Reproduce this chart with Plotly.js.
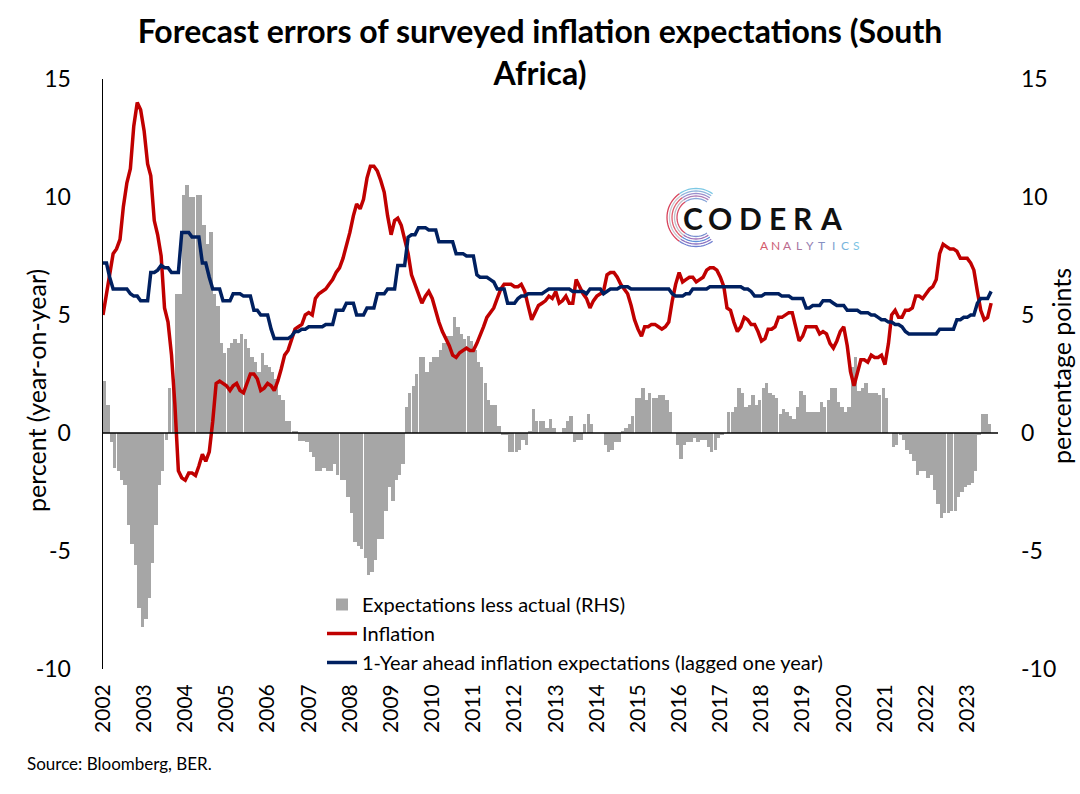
<!DOCTYPE html>
<html><head><meta charset="utf-8">
<script src="https://cdn.plot.ly/plotly-3.0.1.min.js"></script>
<style>html,body{margin:0;padding:0;background:#fff}#chart{width:1080px;height:794px}</style>
</head><body><div id="chart"></div>
<script>
// Monthly observations, Jan 2002 .. Aug 2023
const startYear = 2002;
const nMonths = 260;
const months = [];
for (let i = 0; i < nMonths; i++) {
  const y = startYear + Math.floor(i / 12), m = i % 12 + 1;
  months.push(y + '-' + (m < 10 ? '0' : '') + m + '-01');
}
const yearLabels = ['2002','2003','2004','2005','2006','2007','2008','2009','2010','2011','2012','2013','2014','2015','2016','2017','2018','2019','2020','2021','2022','2023'];
const yearTicks = yearLabels.map(y => y + '-01-01');
const yTickVals = [-10, -5, 0, 5, 10, 15];
const yTickText = ['-10', '-5', '0', '5', '10', '15'];

const inflation = [
5.0,5.9,6.9,7.6,7.8,8.2,9.6,10.6,11.2,13.0,
14.0,13.7,12.8,11.4,10.9,9.0,8.4,7.5,5.3,4.7,
3.3,1.2,-1.6,-1.9,-2.0,-1.7,-1.7,-1.8,-1.4,-0.9,
-1.2,-0.8,0.5,2.1,2.2,2.1,2.0,1.8,2.0,2.1,
1.8,1.7,2.1,2.5,2.5,2.3,1.8,1.9,2.1,2.0,
1.8,2.2,2.7,3.3,3.5,4.0,4.4,4.5,4.6,5.0,
5.1,5.0,5.7,5.9,6.0,6.1,6.3,6.5,6.8,7.0,
7.4,7.9,8.5,9.2,9.7,9.5,9.9,10.8,11.3,11.3,
11.1,10.7,10.2,9.2,8.4,9.0,9.1,8.8,8.2,7.6,
6.7,6.3,5.9,5.5,5.8,6.0,5.7,5.1,4.7,4.3,
4.0,3.7,3.3,3.2,3.4,3.5,3.6,3.5,3.5,3.8,
4.1,4.5,4.9,5.1,5.3,5.7,6.1,6.3,6.3,6.3,
6.2,6.2,6.3,6.0,5.4,4.8,5.1,5.4,5.5,5.6,
5.8,5.7,6.0,5.5,5.6,5.8,5.5,5.5,6.5,6.2,
5.9,5.7,5.3,5.6,5.8,5.9,6.0,6.7,6.8,6.8,
6.6,6.3,6.1,5.9,5.4,4.8,4.4,4.1,4.5,4.5,
4.6,4.6,4.5,4.4,4.5,4.7,5.6,6.3,6.8,6.4,
6.5,6.6,6.6,6.4,6.5,6.6,6.9,7.0,7.0,6.9,
6.6,6.2,5.3,5.2,4.7,4.3,4.5,4.9,4.8,4.6,
4.6,4.3,3.9,4.0,4.4,4.4,4.5,4.9,4.9,5.0,
5.1,5.1,4.5,3.9,4.1,4.5,4.5,4.5,4.5,4.2,
4.3,4.2,3.8,3.6,3.9,4.3,4.5,3.7,2.6,2.0,
2.6,3.1,3.1,3.0,3.3,3.2,3.2,3.3,2.9,3.8,
5.0,5.2,4.9,4.9,5.2,5.2,5.3,5.8,5.8,5.7,
5.9,6.1,6.2,6.5,7.6,8.0,7.9,7.8,7.8,7.7,
7.4,7.4,7.4,7.2,6.9,6.0,5.2,4.8,4.9,5.5
];

const expectationsLagged = [
7.2,7.2,6.6,6.1,6.1,6.1,6.1,6.1,5.9,5.8,
5.8,5.6,5.6,5.6,6.8,6.8,6.9,7.1,7.0,7.0,
6.8,6.8,6.8,8.5,8.5,8.5,8.3,8.3,8.3,7.2,
7.2,6.6,6.1,6.1,6.1,5.6,5.6,5.6,5.9,5.9,
5.9,5.8,5.8,5.8,5.2,5.2,5.0,5.0,5.0,4.4,
4.0,4.0,4.0,4.0,4.0,4.1,4.3,4.3,4.4,4.4,
4.5,4.5,4.5,4.5,4.5,4.6,4.6,4.6,5.2,5.2,
5.2,5.5,5.5,5.5,5.0,5.0,5.0,5.3,5.3,5.3,
5.9,5.9,5.9,6.1,6.1,6.1,7.1,7.1,7.1,8.3,
8.4,8.4,8.7,8.7,8.7,8.6,8.6,8.6,8.1,8.1,
8.1,8.1,8.1,7.6,7.6,7.6,7.5,7.5,7.5,6.7,
6.6,6.6,6.6,6.5,6.4,6.1,6.1,6.1,5.5,5.5,
5.5,5.7,5.8,5.8,5.9,5.9,5.9,5.9,5.9,6.0,
6.1,6.1,6.1,6.1,6.1,6.1,6.1,6.0,6.0,6.0,
6.0,5.9,6.1,6.1,6.1,6.1,5.9,6.0,6.1,6.1,
6.1,6.2,6.2,6.2,6.1,6.1,6.1,6.1,6.1,6.1,
6.1,6.1,6.1,6.1,6.1,6.1,5.9,5.8,5.8,5.8,
5.9,5.9,6.1,6.1,6.1,6.1,6.1,6.2,6.2,6.2,
6.2,6.2,6.2,6.2,6.2,6.2,6.2,6.1,6.1,6.0,
5.8,5.8,5.8,5.9,5.9,5.9,5.9,5.9,5.8,5.8,
5.8,5.7,5.7,5.7,5.7,5.3,5.3,5.4,5.4,5.4,
5.6,5.6,5.6,5.5,5.4,5.4,5.4,5.2,5.2,5.2,
5.2,5.1,5.1,5.1,5.0,5.0,4.9,4.8,4.8,4.7,
4.7,4.6,4.6,4.5,4.3,4.2,4.2,4.2,4.2,4.2,
4.2,4.2,4.2,4.2,4.4,4.4,4.4,4.4,4.4,4.8,
4.8,4.9,4.9,5.0,5.0,5.5,5.7,5.7,5.7,6.0
];

const expectationsLessActual = [
2.2,1.2,-0.4,-1.5,-1.6,-2.0,-2.2,-3.9,-4.7,-5.6,
-7.4,-8.2,-7.9,-7.0,-5.5,-3.9,-2.2,-1.6,-0.3,1.9,
2.3,5.9,5.9,10.1,10.5,10.0,10.0,10.1,10.1,8.8,
8.0,8.5,5.9,5.4,3.8,3.4,3.6,3.8,4.0,3.8,
4.2,4.0,3.6,3.2,3.0,2.6,3.4,2.9,2.8,2.6,
2.3,1.6,1.4,0.5,0.5,0.1,0.1,-0.35,-0.35,-0.4,
-0.8,-1.0,-1.6,-1.6,-1.5,-1.6,-1.6,-1.3,-1.8,-2.0,
-2.0,-2.7,-3.4,-4.6,-4.8,-4.9,-5.3,-6.0,-5.9,-5.4,
-4.5,-4.5,-3.3,-2.3,-2.9,-2.0,-1.8,-1.3,1.1,1.7,
2.0,2.5,3.2,3.2,2.6,3.0,3.2,3.2,3.5,3.8,
4.1,4.1,4.9,4.5,4.2,4.0,4.1,3.9,3.5,3.0,
2.8,2.1,1.4,1.2,1.2,0.3,-0.1,-0.1,-0.8,-0.8,
-0.8,-0.7,-0.3,-0.5,0.1,1.0,0.5,0.5,0.5,0.2,
0.6,0.2,0.0,0.0,0.2,0.5,0.7,-0.4,-0.3,-0.3,
0.4,0.8,0.4,0.0,0.0,0.0,-0.5,-0.8,-0.7,-0.4,
-0.4,0.1,0.2,0.4,0.7,1.5,1.5,1.9,1.4,1.7,
1.5,1.5,1.6,1.6,1.4,0.9,0.0,-0.5,-1.1,-0.5,
-0.4,-0.4,-0.2,-0.4,-0.3,-0.3,-0.6,-0.8,-0.7,-0.2,
-0.1,0.0,0.9,0.9,1.1,1.9,1.7,1.1,1.2,1.6,
1.2,1.4,1.9,2.1,1.7,1.6,1.5,0.8,1.0,0.9,
0.7,0.6,1.1,1.8,1.6,0.9,0.9,0.9,0.9,1.3,
1.1,1.4,1.9,1.9,1.3,1.1,0.9,1.1,2.8,3.2,
1.8,1.9,2.1,1.7,1.7,1.7,1.6,1.9,1.5,0.0,
-0.6,-0.5,-0.1,-0.3,-0.7,-0.9,-1.2,-1.8,-1.6,-1.6,
-1.9,-1.8,-2.4,-3.0,-3.6,-3.4,-3.4,-3.3,-3.3,-2.7,
-2.5,-2.3,-2.2,-2.1,-1.6,-0.1,0.8,0.8,0.4,null
];

// ---- layout geometry (pixels) ----
const PL = 103, PR = 998, PT = 79, PB = 669;
const px = x => (x - PL) / (PR - PL);
const py = y => (PB - y) / (PB - PT);
const FONT = 'Lato, "Open Sans", sans-serif';

const traces = [
  {type: 'bar', name: 'Expectations less actual (RHS)', x: months, y: expectationsLessActual,
   xperiod: 'M1', xperiodalignment: 'middle', yaxis: 'y',
   marker: {color: '#A6A6A6', line: {width: 0}}, hoverinfo: 'skip'},
  {type: 'scatter', mode: 'lines', name: 'Inflation', x: months, y: inflation, yaxis: 'y2',
   line: {color: '#C00000', width: 3.5}},
  {type: 'scatter', mode: 'lines', name: '1-Year ahead inflation expectations (lagged one year)',
   x: months, y: expectationsLagged, yaxis: 'y2',
   line: {color: '#002060', width: 3.5}}
];

// zero line and logo decoration
const shapes = [
  {type: 'line', xref: 'paper', x0: 0, x1: 1, yref: 'y', y0: 0, y1: 0,
   line: {color: '#000', width: 1.5}, layer: 'above'}
];
const cx = 696, cy = 217.5;
const radii = [29, 26.5, 24, 21.5, 19];
const segs = [
  {a: -55, b: -125, cols: ['#7cc8e4', '#8fb4dc', '#9b8fcc', '#b07fb8', '#8aa6d8']},
  {a: -125, b: -235, cols: ['#d8445c', '#c8c8d0', '#e06070', '#c0c0c8', '#d85068']},
  {a: -235, b: -305, cols: ['#6f7fd0', '#8a70c0', '#5f8fd8', '#a070b8', '#7b90d0']}
];
radii.forEach((r, ri) => {
  segs.forEach(s => {
    let d = '';
    for (let t = s.a; t >= s.b; t -= 5) {
      const rad = t * Math.PI / 180;
      const X = px(cx + r * Math.cos(rad)), Y = py(cy + r * Math.sin(rad));
      d += (d ? ' L ' : 'M ') + X.toFixed(5) + ',' + Y.toFixed(5);
    }
    shapes.push({type: 'path', xref: 'paper', yref: 'paper', path: d,
      line: {color: s.cols[ri], width: 1.3}, layer: 'above'});
  });
});

const annotations = [];
const coderaLetters = ['C', 'O', 'D', 'E', 'R', 'A'];
const coderaX = [693, 720, 750, 777, 803, 831];
coderaLetters.forEach((c, i) => annotations.push({
  xref: 'paper', yref: 'paper', x: px(coderaX[i]), y: py(218), xanchor: 'center', yanchor: 'middle',
  text: '<b>' + c + '</b>', showarrow: false, font: {family: FONT, size: 30, color: '#111'}}));
const analyticsLetters = ['A','N','A','L','Y','T','I','C','S'];
const analyticsCols = ['#d45a6a','#cc5f78','#bb6a8c','#a7769f','#9581b2','#8690c2','#7ca2d0','#78b4dc','#7cc4e4'];
analyticsLetters.forEach((c, i) => annotations.push({
  xref: 'paper', yref: 'paper', x: px(764 + i * 11.5), y: py(245), xanchor: 'center', yanchor: 'middle',
  text: c, showarrow: false, font: {family: FONT, size: 12, color: analyticsCols[i]}}));

annotations.push({xref: 'paper', yref: 'paper', x: px(36), y: py(391), textangle: -90,
  text: 'percent (year-on-year)', showarrow: false, xanchor: 'center', yanchor: 'middle',
  font: {family: FONT, size: 25, color: '#000'}});
annotations.push({xref: 'paper', yref: 'paper', x: px(1061), y: py(366), textangle: -90,
  text: 'percentage points', showarrow: false, xanchor: 'center', yanchor: 'middle',
  font: {family: FONT, size: 25, color: '#000'}});
annotations.push({xref: 'paper', yref: 'paper', x: px(25), y: py(763),
  text: 'Source: Bloomberg, BER.', showarrow: false, xanchor: 'left', yanchor: 'middle',
  font: {family: FONT, size: 17, color: '#000'}});

const layout = {
  width: 1080, height: 794,
  margin: {l: PL, r: 1080 - PR, t: PT, b: 794 - PB, pad: 0},
  paper_bgcolor: '#fff', plot_bgcolor: '#fff',
  font: {family: FONT, color: '#000'},
  title: {text: '<b>Forecast errors of surveyed inflation expectations (South<br>Africa)</b>',
    x: 0.5, xref: 'container', xanchor: 'center', y: 1 - 43 / 794, yref: 'container', yanchor: 'top',
    font: {family: FONT, size: 32, color: '#000'}},
  bargap: 0,
  hovermode: false,
  showlegend: true,
  legend: {x: px(322), y: py(585), xanchor: 'left', yanchor: 'top', bgcolor: 'rgba(0,0,0,0)',
    font: {family: FONT, size: 20, color: '#000'}, traceorder: 'normal', itemwidth: 30},
  xaxis: {type: 'date', range: ['2002-01-01', '2023-10-01'], tickvals: yearTicks, ticktext: yearLabels,
    tickangle: -90, tickfont: {family: FONT, size: 21, color: '#000'}, showgrid: false, zeroline: false,
    showline: false, ticks: '', ticklabelstandoff: 10, fixedrange: true},
  yaxis: {range: [-10, 15], tickvals: yTickVals, ticktext: yTickText, side: 'right', anchor: 'x',
    showgrid: false, zeroline: false, showline: false, ticks: '',
    tickfont: {family: FONT, size: 23, color: '#000'}, ticklabelstandoff: 22},
  yaxis2: {range: [-10, 15], tickvals: yTickVals, ticktext: yTickText, side: 'left', overlaying: 'y',
    anchor: 'x', showgrid: false, zeroline: false, showline: true, linecolor: '#000', linewidth: 1.5,
    ticks: '', tickfont: {family: FONT, size: 23, color: '#000'}, ticklabelstandoff: 26},
  shapes: shapes,
  annotations: annotations
};

Plotly.newPlot('chart', traces, layout, {staticPlot: true, displayModeBar: false});
</script>
</body></html>
